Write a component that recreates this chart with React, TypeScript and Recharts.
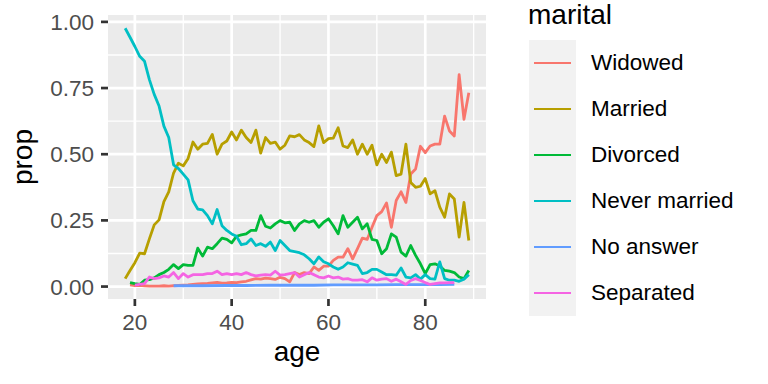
import { LineChart, Line, XAxis, YAxis, CartesianGrid, Legend } from "recharts";

const FONT = '"Liberation Sans", Arial, Helvetica, sans-serif';

/* ── Data (proportion of each marital status by age) ───── */
const ages = [
  18, 19, 20, 21, 22, 23, 24, 25, 26, 27, 28, 29, 30, 31, 32, 33, 34, 35,
  36, 37, 38, 39, 40, 41, 42, 43, 44, 45, 46, 47, 48, 49, 50, 51, 52, 53,
  54, 55, 56, 57, 58, 59, 60, 61, 62, 63, 64, 65, 66, 67, 68, 69, 70, 71,
  72, 73, 74, 75, 76, 77, 78, 79, 80, 81, 82, 83, 84, 85, 86, 87, 88, 89,
];

const widowed = [
  null, 0.006, 0.004, 0.005, 0.003, 0.002, 0.002, 0.002, 0.003, 0.002, 0.003, 0.004,
  0.005, 0.006, 0.008, 0.01, 0.011, 0.012, 0.014, 0.016, 0.013, 0.014, 0.016, 0.015,
  0.018, 0.02, 0.025, 0.03, 0.028, 0.032, 0.03, 0.027, 0.035, 0.03, 0.018, 0.053,
  0.045, 0.053, 0.049, 0.074, 0.061, 0.077, 0.077, 0.099, 0.111, 0.111, 0.143, 0.105,
  0.143, 0.183, 0.178, 0.224, 0.268, 0.283, 0.316, 0.224, 0.325, 0.358, 0.318, 0.425,
  0.444, 0.53, 0.506, 0.531, 0.538, 0.538, 0.644, 0.588, 0.569, 0.801, 0.632, 0.732,
];

const married = [
  0.03, 0.061, 0.09, 0.126, 0.124, 0.18, 0.233, 0.252, 0.321, 0.358, 0.429, 0.466,
  0.456, 0.484, 0.546, 0.519, 0.538, 0.541, 0.575, 0.5, 0.538, 0.55, 0.584, 0.554,
  0.591, 0.563, 0.544, 0.591, 0.504, 0.563, 0.541, 0.546, 0.519, 0.534, 0.569, 0.566,
  0.574, 0.554, 0.544, 0.529, 0.607, 0.544, 0.559, 0.561, 0.6, 0.531, 0.525, 0.554,
  0.5, 0.538, 0.5, 0.534, 0.46, 0.5, 0.469, 0.508, 0.419, 0.425, 0.538, 0.393,
  0.375, 0.379, 0.408, 0.35, 0.362, 0.3, 0.262, 0.35, 0.331, 0.187, 0.318, 0.174,
];

const divorced = [
  null, 0.015, 0.011, 0.008, 0.024, 0.026, 0.033, 0.045, 0.053, 0.065, 0.083, 0.068,
  0.083, 0.08, 0.08, 0.145, 0.115, 0.149, 0.143, 0.162, 0.183, 0.178, 0.165, 0.19,
  0.195, 0.199, 0.212, 0.212, 0.268, 0.228, 0.221, 0.237, 0.249, 0.241, 0.243, 0.212,
  0.237, 0.249, 0.243, 0.249, 0.224, 0.243, 0.256, 0.23, 0.199, 0.268, 0.224, 0.243,
  0.262, 0.218, 0.237, 0.178, 0.174, 0.124, 0.143, 0.199, 0.187, 0.13, 0.115, 0.155,
  0.118, 0.086, 0.049, 0.083, 0.086, 0.078, 0.061, 0.058, 0.053, 0.036, 0.03, 0.061,
];

const neverMarried = [
  0.976, 0.942, 0.907, 0.87, 0.851, 0.782, 0.726, 0.682, 0.606, 0.563, 0.46, 0.446,
  0.425, 0.403, 0.324, 0.293, 0.29, 0.268, 0.237, 0.291, 0.23, 0.212, 0.199, 0.19,
  0.158, 0.162, 0.18, 0.155, 0.162, 0.152, 0.168, 0.136, 0.174, 0.155, 0.136, 0.132,
  0.128, 0.12, 0.105, 0.086, 0.112, 0.094, 0.086, 0.074, 0.065, 0.074, 0.09, 0.085,
  0.08, 0.049, 0.053, 0.065, 0.065, 0.055, 0.045, 0.045, 0.043, 0.07, 0.036, 0.033,
  0.045, 0.028, 0.045, 0.03, 0.028, 0.093, 0.03, 0.024, 0.024, 0.02, 0.028, 0.045,
];

// "No answer" only occurs at a handful of ages
const noAnswerAges = [28, 34, 39, 43, 48, 52, 57, 61, 66, 70, 74, 79, 83, 86];
const noAnswerProp = [
  0.003, 0.003, 0.004, 0.004, 0.005, 0.005, 0.005, 0.006, 0.006, 0.006, 0.007, 0.007,
  0.007, 0.008,
];

const separated = [
  null, null, 0.005, 0.008, 0.011, 0.036, 0.03, 0.033, 0.04, 0.036, 0.053, 0.03,
  0.049, 0.036, 0.045, 0.045, 0.045, 0.049, 0.049, 0.058, 0.045, 0.049, 0.045, 0.049,
  0.045, 0.053, 0.045, 0.04, 0.043, 0.045, 0.043, 0.058, 0.043, 0.045, 0.049, 0.053,
  0.036, 0.045, 0.053, 0.045, 0.036, 0.033, 0.04, 0.033, 0.036, 0.028, 0.03, 0.024,
  0.024, 0.026, 0.018, 0.033, 0.024, 0.028, 0.03, 0.02, 0.028, 0.018, 0.008, 0.023,
  0.03, 0.023, 0.015, 0.008, 0.011, 0.014, 0.014, 0.015, 0.015, null, null, null,
];

const xTicks = [20, 40, 60, 80];
const xMinor = [30, 50, 70, 90];
const yTicks = [0, 0.25, 0.5, 0.75, 1];
const yMinor = [0.125, 0.375, 0.625, 0.875];

const noAnswer = ages.map((a) => {
  const j = noAnswerAges.indexOf(a);
  return j >= 0 ? noAnswerProp[j] : null;
});

const series = [
  { key: "widowed", name: "Widowed", color: "#F8766D", values: widowed },
  { key: "married", name: "Married", color: "#B79F00", values: married },
  { key: "divorced", name: "Divorced", color: "#00BA38", values: divorced },
  { key: "neverMarried", name: "Never married", color: "#00BFC4", values: neverMarried },
  { key: "noAnswer", name: "No answer", color: "#619CFF", values: noAnswer },
  { key: "separated", name: "Separated", color: "#F564E3", values: separated },
];

const data = ages.map((age, i) => {
  const row: Record<string, number | null> = { age };
  series.forEach((s) => {
    row[s.key] = s.values[i];
  });
  return row;
});

/* ── Legend ────────────────────────────────────────────── */
const ROW = 46;

function MaritalLegend() {
  return (
    <div style={{ position: "relative", width: 239, height: 320, fontFamily: FONT }}>
      <div
        style={{
          position: "absolute",
          left: -1,
          top: 0,
          fontSize: 28,
          lineHeight: "30px",
          color: "#000",
          whiteSpace: "nowrap",
        }}
      >
        marital
      </div>
      <div
        style={{
          position: "absolute",
          left: 0,
          top: 40,
          width: 47,
          height: ROW * series.length,
          background: "#F2F2F2",
        }}
      />
      {series.map((s, i) => (
        <div
          key={s.key}
          style={{ position: "absolute", left: 0, top: 40 + i * ROW, width: 239, height: ROW }}
        >
          <div
            style={{
              position: "absolute",
              left: 5,
              top: 21.5,
              width: 37,
              height: 2.8,
              background: s.color,
            }}
          />
          <div
            style={{
              position: "absolute",
              left: 62,
              top: 0,
              fontSize: 22.5,
              lineHeight: `${ROW}px`,
              color: "#000",
              whiteSpace: "nowrap",
            }}
          >
            {s.name}
          </div>
        </div>
      ))}
    </div>
  );
}

function PropLabel(props: any) {
  const vb = props.viewBox || { x: 0, y: 15, width: 108, height: 284 };
  const cx = vb.x + 32;
  const cy = vb.y + vb.height / 2;
  return (
    <text
      x={cx}
      y={cy}
      transform={`rotate(-90 ${cx} ${cy})`}
      textAnchor="middle"
      fontSize={28}
      fill="#000"
      fontFamily={FONT}
    >
      prop
    </text>
  );
}

const tickStyle = { fontSize: 22.5, fill: "#4D4D4D", fontFamily: FONT };
const tickLine = { stroke: "#333333", strokeWidth: 2.7 };

export default function App() {
  return (
    <div style={{ width: 768, height: 384, background: "#fff", fontFamily: FONT }}>
      <style>{`body{margin:0}`}</style>
      <LineChart
        width={768}
        height={384}
        data={data}
        margin={{ top: 15, right: 282, bottom: 0, left: 0 }}
      >
        <CartesianGrid
          fill="#EBEBEB"
          stroke="#FFFFFF"
          strokeWidth={1.35}
          horizontalValues={yMinor}
          verticalValues={xMinor}
        />
        <CartesianGrid
          stroke="#FFFFFF"
          strokeWidth={2.7}
          horizontalValues={yTicks}
          verticalValues={xTicks}
        />
        <XAxis
          type="number"
          dataKey="age"
          domain={[14.45, 92.55]}
          ticks={xTicks}
          interval={0}
          height={85}
          axisLine={false}
          tickLine={tickLine}
          tickSize={7}
          tickMargin={8}
          tick={tickStyle}
          label={{
            value: "age",
            position: "insideBottom",
            offset: 23,
            fontSize: 28,
            fill: "#000",
            fontFamily: FONT,
          }}
        />
        <YAxis
          type="number"
          domain={[-0.047, 1.026]}
          ticks={yTicks}
          interval={0}
          width={108}
          axisLine={false}
          tickLine={tickLine}
          tickSize={7}
          tickMargin={7}
          tick={tickStyle}
          tickFormatter={(v: number) => v.toFixed(2)}
          label={PropLabel}
        />
        {series.map((s) => (
          <Line
            key={s.key}
            type="linear"
            dataKey={s.key}
            name={s.name}
            stroke={s.color}
            strokeWidth={2.8}
            strokeLinejoin="round"
            dot={false}
            activeDot={false}
            connectNulls
            isAnimationActive={false}
          />
        ))}
        <Legend
          layout="vertical"
          align="center"
          verticalAlign="middle"
          content={() => <MaritalLegend />}
          wrapperStyle={{ left: 529, top: 0, width: 239, height: 320 }}
        />
      </LineChart>
    </div>
  );
}
